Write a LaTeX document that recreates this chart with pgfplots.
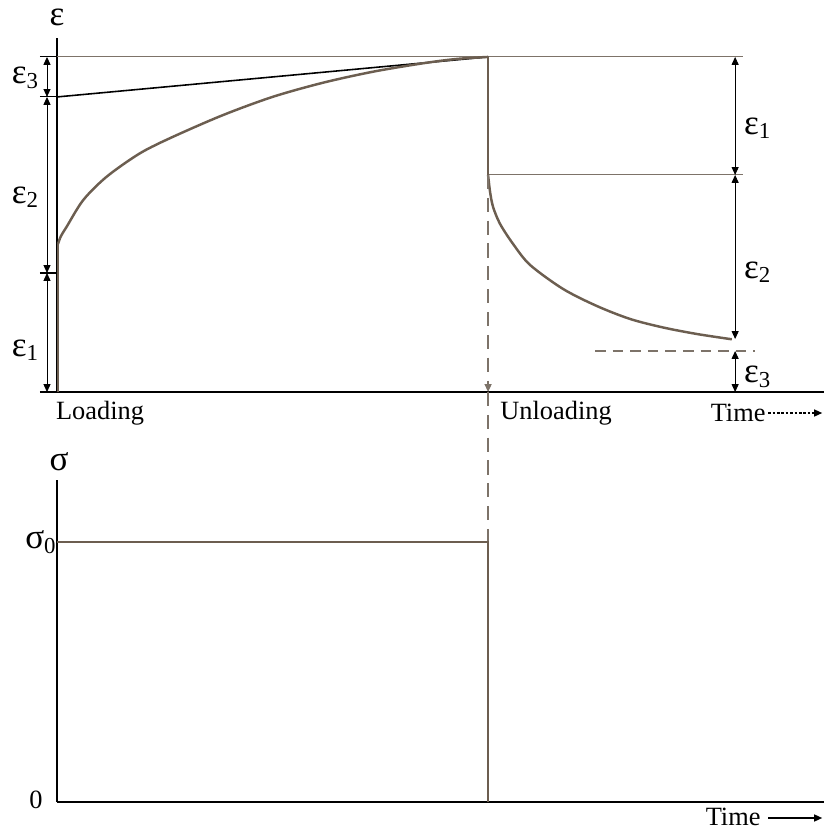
\documentclass[border=0pt]{standalone}
\usepackage{fontspec}
\setmainfont{Liberation Serif}
\usepackage{pgfplots}
\pgfplotsset{compat=1.18}
\usetikzlibrary{arrows.meta}

\definecolor{curve}{RGB}{108,94,80}
\definecolor{guide}{RGB}{125,115,105}
\newcommand{\sym}[2]{{\fontsize{20}{22}\selectfont #1}\raisebox{-0.55ex}{\fontsize{13}{14}\selectfont #2}}
\newcommand{\txt}{\fontsize{15}{17}\selectfont}
\tikzset{
  dim/.style={<->, >={Triangle[length=4.5pt,width=4pt]}, line width=0.5pt, black},
  tip/.style={->, >={Triangle[length=4.5pt,width=4pt]}},
}

\begin{document}
\begin{tikzpicture}
\path[use as bounding box] (0,0) rectangle (16.48cm,16.64cm);

% strain response (pixel-like units, y measured upwards)
\begin{axis}[
  at={(1.14cm,8.8cm)}, anchor=south west,
  x=0.02cm, y=0.02cm,
  xmin=57, xmax=824, ymin=440, ymax=794,
  axis lines*=left,
  axis line style={line width=1.7pt, black},
  xtick=\empty, ytick=\empty,
  clip=false
]
% guide lines
\addplot[guide, line width=0.6pt] coordinates {(43,775) (743,775)};
\addplot[guide, line width=0.6pt] coordinates {(488,657) (743,657)};
\addplot[black, line width=0.9pt] coordinates {(57,735) (488,775)};
\addplot[guide, line width=0.7pt, dash pattern=on 6pt off 4pt] coordinates {(595,481) (755,481)};
% loading
\addplot[curve, line width=1.4pt] coordinates {(58,440) (58,588)};
\addplot[curve, line width=1.4pt, smooth] coordinates {
  (58,588) (61,596) (66.7,605.3) (83.3,632) (106.7,655.3) (140,678.7) (173.3,695.3)
  (223.3,717) (273.3,735.3) (323.3,749.3) (373.3,760.3) (423.3,768.7)
  (456.7,773) (488,775)};
% unloading
\addplot[curve, line width=1.4pt] coordinates {(488,775) (488,657)};
\addplot[curve, line width=1.4pt, smooth] coordinates {
  (488,657) (490,640) (493,625) (500,608) (513,588) (530,567) (563,543)
  (596.7,526) (630,513) (663,504.5) (696.7,498) (731.7,492.7)};
% dashed drop line
\draw[guide, line width=0.7pt, dash pattern=on 8pt off 5pt, tip] (488,657) -- (488,440);
% left dimensions
\draw[black, line width=0.6pt] (40,440) -- (57,440);
\draw[black, line width=0.6pt] (40,775) -- (57,775);
\draw[black, line width=0.6pt] (40,735) -- (57,735);
\draw[black, line width=0.6pt] (40,559) -- (57,559);
\draw[dim] (47,775) -- (47,735);
\draw[dim] (47,735) -- (47,559);
\draw[dim] (47,559) -- (47,440);
% right dimensions
\draw[dim] (735,775) -- (735,657);
\draw[dim] (735,657) -- (735,493);
\draw[dim] (735,481) -- (735,440);
% labels
\node[inner sep=0pt] at (57,812) {\sym{ε}{}};
\node at (25,754) {\sym{ε}{3}};
\node at (25,635) {\sym{ε}{2}};
\node at (25,482) {\sym{ε}{1}};
\node at (757,704) {\sym{ε}{1}};
\node at (757,560) {\sym{ε}{2}};
\node at (757,455) {\sym{ε}{3}};
\node at (100,419) {\txt Loading};
\node at (556,419) {\txt Unloading};
\node at (738,419) {\txt Time};
\draw[black, line width=0.6pt, dash pattern=on 1.5pt off 1pt, tip] (768,419) -- (822,419);
\end{axis}

% applied stress
\begin{axis}[
  at={(1.14cm,0.6cm)}, anchor=south west,
  x=0.02cm, y=0.02cm,
  xmin=57, xmax=824, ymin=30, ymax=352,
  axis lines*=left,
  axis line style={line width=1.2pt, black},
  xtick=\empty, ytick=\empty,
  clip=false
]
\draw[guide, line width=0.7pt, dash pattern=on 8pt off 5pt] (488,440) -- (488,290);
\addplot[curve, line width=1.3pt] coordinates {(57,290) (488,290) (488,30)};
\node at (59,370) {{\fontsize{20}{22}\selectfont σ}};
\node[anchor=east, inner sep=0pt] at (56,290) {\sym{σ}{0}};
\node[anchor=east, inner sep=0pt] at (43,32) {\txt 0};
\node[inner sep=0pt] at (733,15) {\txt Time};
\draw[black, line width=0.7pt, tip] (768,14) -- (822,14);
\end{axis}
\end{tikzpicture}
\end{document}
